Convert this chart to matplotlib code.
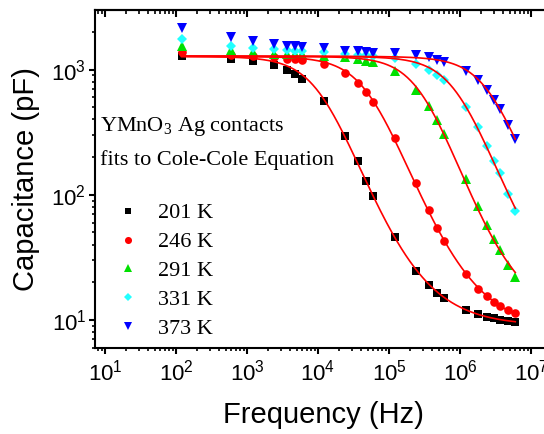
import numpy as np
import matplotlib
matplotlib.use("Agg")
import matplotlib.pyplot as plt
from matplotlib.ticker import LogLocator, NullFormatter, FixedLocator

# Measured capacitance (pF) vs frequency (Hz)
freq = np.array([120, 600, 1.2e3, 2.4e3, 3.6e3, 4.8e3, 6e3, 1.2e4, 2.4e4, 3.6e4,
                 4.8e4, 6e4, 1.2e5, 2.4e5, 3.6e5, 4.8e5, 6e5, 1.2e6, 1.8e6,
                 2.4e6, 3e6, 3.6e6, 4.8e6, 6e6])
cap_201 = np.array([1294, 1218, 1166, 1096, 1000, 923, 842, 558, 293, 185, 130,
                    98.7, 45.9, 24.8, 19.0, 16.5, 15.1, 12.0, 11.2, 10.6, 10.3,
                    10.0, 9.8, 9.6])
cap_246 = np.array([1385, 1318, 1280, 1255, 1225, 1218, 1202, 1110, 940, 782, 658,
                    551, 284, 124, 75.9, 54.7, 43.1, 23.2, 17.6, 15.4, 14.0,
                    13.0, 12.0, 11.4])
cap_291 = np.array([1537, 1445, 1376, 1343, 1335, 1335, 1330, 1294, 1255, 1218,
                    1180, 1152, 982, 692, 509, 393, 308, 133, 80.7, 57.5, 44.5,
                    36.3, 27.5, 22.2])
cap_331 = np.array([1758, 1556, 1490, 1463, 1445, 1419, 1419, 1385, 1343, 1318,
                    1300, 1278, 1240, 1110, 1000, 912, 832, 503, 348, 247, 185,
                    149, 101, 74.9])
cap_373 = np.array([2155, 1814, 1686, 1605, 1556, 1537, 1518, 1490, 1419, 1402,
                    1376, 1360, 1360, 1302, 1255, 1202, 1152, 982, 822, 684, 575,
                    488, 363, 279])

labels = ["201 K", "246 K", "291 K", "331 K", "373 K"]
x_major = [1e1, 1e2, 1e3, 1e4, 1e5, 1e6, 1e7]
y_major = [1e1, 1e2, 1e3]

# Cole-Cole fit parameters for each temperature
fit_c0 = [1280, 1280, 1280, 1280, 1280]          # static capacitance (pF)
fit_cinf = [9.0, 8.2, 10.0, 10.0, 10.0]          # high-frequency capacitance (pF)
fit_tau = [1.50e-5, 3.14e-6, 5.62e-7, 1.74e-7, 6.03e-8]  # relaxation time (s)
fit_beta = [0.900, 0.900, 0.920, 0.910, 0.915]   # 1 - alpha


def cole_cole(f, c0, cinf, tau, beta):
    """Real part of the Cole-Cole capacitance."""
    return cinf + (c0 - cinf) * np.real(1 / (1 + (1j * 2 * np.pi * f * tau) ** beta))


plt.rcParams["font.family"] = ["Liberation Sans"]

fig = plt.figure(figsize=(5.44, 4.34), dpi=100)
ax = fig.add_axes([95 / 544, 86.3 / 434, 457.4 / 544, 337.7 / 434])
ax.set_xscale("log")
ax.set_yscale("log")
ax.set_xlim(10 ** 0.859, 2e7)
ax.set_ylim(10 ** 0.778, 10 ** 3.477)

series = [cap_201, cap_246, cap_291, cap_331, cap_373]
colors = ["#000000", "#FF0000", "#00E000", "#22FFFF", "#0000FF"]
markers = ["s", "o", "^", "D", "v"]
sizes = [5.2, 6.2, 6.7, 4.8, 7.2]
handles = []
for c, col, mk, ms, lab in zip(series, colors, markers, sizes, labels):
    h, = ax.plot(freq, c, ls="none", marker=mk, ms=ms, color=col, mec=col,
                 mew=0, label=lab, zorder=3)
    handles.append(h)

fgrid = np.logspace(np.log10(freq[0]), np.log10(freq[-1]), 400)
for c0, cinf, tau, beta in zip(fit_c0, fit_cinf, fit_tau, fit_beta):
    ax.plot(fgrid, cole_cole(fgrid, c0, cinf, tau, beta), color="#FF0000",
            lw=1.2, zorder=4)

ax.legend(handles=handles, prop={"family": "Liberation Serif", "size": 16},
          frameon=False, loc="upper left", bbox_to_anchor=(0.0472, 0.4287),
          borderpad=0, borderaxespad=0, handlelength=1.0, handletextpad=0.88,
          labelspacing=0.375, markerscale=0.82)

ax.text(0.011, 0.6417, "YMnO$_\\mathregular{3}$ Ag contacts", transform=ax.transAxes,
        family="Liberation Serif", fontsize=16, va="baseline", ha="left")
ax.text(0.011, 0.541, "fits to Cole-Cole Equation", transform=ax.transAxes,
        family="Liberation Serif", fontsize=16, va="baseline", ha="left")

ax.set_xlabel("Frequency (Hz)", fontsize=21)
ax.set_ylabel("Capacitance (pF)", fontsize=21)
ax.xaxis.set_label_coords(0.5, -0.158)
ax.yaxis.set_label_coords(-0.12, 0.5)

ax.xaxis.set_major_locator(FixedLocator(x_major))
ax.yaxis.set_major_locator(FixedLocator(y_major))
ax.xaxis.set_minor_locator(LogLocator(base=10, subs=np.arange(2, 10), numticks=20))
ax.yaxis.set_minor_locator(LogLocator(base=10, subs=np.arange(2, 10), numticks=20))
ax.xaxis.set_minor_formatter(NullFormatter())
ax.yaxis.set_minor_formatter(NullFormatter())

for s in ax.spines.values():
    s.set_linewidth(1.5)
ax.tick_params(which="both", direction="out", top=False, right=False, labelsize=16)
ax.tick_params(which="major", length=4.3, width=1.5, pad=2)
ax.tick_params(which="minor", length=2.5, width=1.2)
ax.tick_params(axis="x", which="major", pad=4)

# mirrored inward ticks along the top edge
top = ax.secondary_xaxis("top")
top.xaxis.set_major_locator(FixedLocator(x_major))
top.xaxis.set_minor_locator(LogLocator(base=10, subs=np.arange(2, 10), numticks=20))
top.tick_params(which="both", direction="in", labeltop=False)
top.tick_params(which="major", length=5, width=1.5)
top.tick_params(which="minor", length=3, width=1.2)
top.spines["top"].set_linewidth(1.5)

fig.savefig("out.png", dpi=100)
